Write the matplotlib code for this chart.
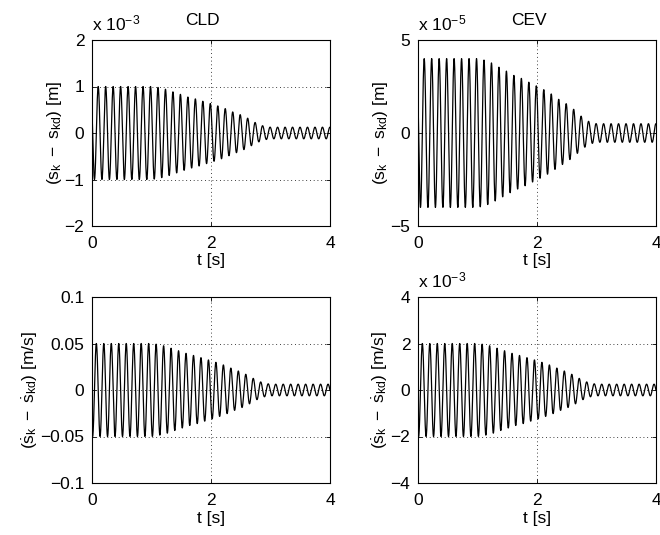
import matplotlib
matplotlib.use('Agg')
import matplotlib.pyplot as plt
import numpy as np
from matplotlib.ticker import FuncFormatter

plt.rcParams['font.family'] = ['Liberation Sans', 'DejaVu Sans']
plt.rcParams['font.size'] = 12.5
plt.rcParams['mathtext.fontset'] = 'custom'
plt.rcParams['mathtext.rm'] = 'Liberation Sans'
plt.rcParams['mathtext.it'] = 'Liberation Sans'
plt.rcParams['mathtext.bf'] = 'Liberation Sans:bold'

# oscillation: ~8 Hz carrier, slight delay
freq_hz = 7.96
delay_s = 0.01

# normalised peak envelope (same shape in all four panels)
env_t = [0.0, 1.0, 1.11, 1.24, 1.37, 1.49, 1.62, 1.75, 1.87, 2.0, 2.12,
         2.25, 2.37, 2.5, 2.63, 2.75, 2.88, 3.0, 4.0]
env_a = [1.0, 1.0, 0.98, 0.94, 0.88, 0.83, 0.77, 0.73, 0.68, 0.63, 0.58,
         0.52, 0.45, 0.39, 0.31, 0.22, 0.15, 0.125, 0.125]

# panel amplitudes
amp_pos_cld = 1.0e-3
amp_pos_cev = 4.0e-5
amp_vel_cld = 0.05
amp_vel_cev = 2.0e-3

titles = ['CLD', 'CEV']
ylabels = [r'$(s_k\ -\ s_{kd})$ [m]', r'$(\dot{s}_k\ -\ \dot{s}_{kd})$ [m/s]']
ylims = [(-2e-3, 2e-3), (-5e-5, 5e-5), (-0.1, 0.1), (-4e-3, 4e-3)]
yticks = [[-2e-3, -1e-3, 0, 1e-3, 2e-3],
          [-5e-5, 0, 5e-5],
          [-0.1, -0.05, 0, 0.05, 0.1],
          [-4e-3, -2e-3, 0, 2e-3, 4e-3]]
scales = [1e-3, 1e-5, None, 1e-3]
exp_text = [r'x 10$^{-3}$', r'x 10$^{-5}$', None, r'x 10$^{-3}$']

t = np.linspace(0, 4, 4001)
env = np.interp(t, env_t, env_a)
ph = 2 * np.pi * freq_hz * (t - delay_s)
series = [-amp_pos_cld * env * np.sin(ph),
          -amp_pos_cev * env * np.sin(ph),
          -amp_vel_cld * env * np.cos(ph),
          -amp_vel_cev * env * np.cos(ph)]

fig = plt.figure(figsize=(6.6, 5.35), dpi=100)
W, H = 660.0, 535.0
rects = [(92, 40), (418, 40), (92, 297), (418, 297)]
aw, ah = 238, 186


def make_fmt(sc):
    def f(v, _):
        if sc is not None:
            v = v / sc
        s = '%g' % round(v, 6)
        return s.replace('-', '\u2212')
    return FuncFormatter(f)


for i, (x0, y0) in enumerate(rects):
    ax = fig.add_axes([x0 / W, 1 - (y0 + ah) / H, aw / W, ah / H])
    ax.plot(t, series[i], color='black', lw=0.9)
    ax.set_xlim(0, 4)
    ax.set_ylim(*ylims[i])
    ax.set_xticks([0, 2, 4])
    ax.set_yticks(yticks[i])
    ax.yaxis.set_major_formatter(make_fmt(scales[i]))
    ax.grid(True, color='black', lw=0.6, linestyle=(0, (1, 3.5)))
    ax.tick_params(direction='in', length=3, width=0.6, top=True, right=True,
                   labelsize=12.5)
    ax.tick_params(axis='x', pad=7)
    ax.tick_params(axis='y', pad=5.5)
    for sp in ax.spines.values():
        sp.set_linewidth(0.8)
    ax.set_xlabel('t [s]', labelpad=2)
    ax.set_ylabel(ylabels[i // 2], labelpad=0.5)
    if exp_text[i]:
        ax.text(0.0, 1 + 10.0 / ah, exp_text[i], transform=ax.transAxes,
                ha='left', va='baseline')
    if i < 2:
        ax.text(0.466, 1 + 15.0 / ah, titles[i], transform=ax.transAxes,
                ha='center', va='baseline')

fig.savefig('out.png', dpi=100)
